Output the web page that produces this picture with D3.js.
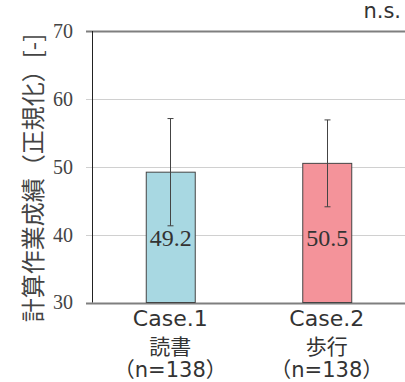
<!DOCTYPE html>
<html>
<head>
<meta charset="utf-8">
<script src="https://cdn.jsdelivr.net/npm/d3@7"></script>
<style>
  html, body { margin: 0; padding: 0; background: #fff; }
  svg { display: block; }
</style>
</head>
<body>
<svg id="chart" width="405" height="382"></svg>
<script>
// Calculation task score (normalised), reading vs walking
const caseNames = ["Case.1", "Case.2"];
const activities = ["読書", "歩行"];
const sampleSizes = ["（n=138）", "（n=138）"];
const means = [49.2, 50.5];
const errLow = [41.3, 44.1];
const errHigh = [57.1, 56.9];
const barColors = ["#a8d8e2", "#f4939a"];
const yTicks = [30, 40, 50, 60, 70];

const W = 405, H = 382;
const margin = { top: 31, right: 0, bottom: 80, left: 92 };
const SERIF = '"Liberation Serif"';

const svg = d3.select("#chart");

const x = d3.scaleBand()
  .domain(caseNames)
  .range([margin.left, W - margin.right])
  .paddingInner(0.687)
  .paddingOuter(0.3435);

const y = d3.scaleLinear()
  .domain([30, 70])
  .range([H - margin.bottom + 0.5, margin.top]);

// gridlines
svg.append("g")
  .selectAll("line")
  .data(yTicks)
  .join("line")
  .attr("x1", margin.left - 6)
  .attr("x2", W)
  .attr("y1", d => Math.round(y(d)) + 0.5)
  .attr("y2", d => Math.round(y(d)) + 0.5)
  .attr("stroke", d => (d === 30 || d === 70) ? "#7f7f7f" : "#d0d0d0")
  .attr("stroke-width", d => (d === 30 || d === 70) ? 2 : 1);

// y tick labels
const yAxis = d3.axisLeft(y).tickValues(yTicks).tickSize(0).tickPadding(19);
const gy = svg.append("g")
  .attr("transform", `translate(${margin.left},0)`)
  .call(yAxis);
gy.select(".domain").remove();
gy.selectAll("text")
  .style("font-family", SERIF)
  .style("font-size", "20px")
  .attr("fill", "#444");

// left axis line
svg.append("line")
  .attr("x1", margin.left + 0.5).attr("x2", margin.left + 0.5)
  .attr("y1", y(70)).attr("y2", y(30))
  .attr("stroke", "#222").attr("stroke-width", 1);

// bars
svg.append("g")
  .selectAll("rect")
  .data(caseNames)
  .join("rect")
  .attr("x", d => x(d) + 0.5)
  .attr("width", x.bandwidth())
  .attr("y", (d, i) => y(means[i]))
  .attr("height", (d, i) => y(30) - y(means[i]))
  .attr("fill", (d, i) => barColors[i])
  .attr("stroke", "#444")
  .attr("stroke-width", 1);

// error bars
const eg = svg.append("g").attr("stroke", "#444").attr("stroke-width", 1);
caseNames.forEach((c, i) => {
  const cx = Math.round(x(c) + x.bandwidth() / 2) + 0.5;
  eg.append("line").attr("x1", cx).attr("x2", cx)
    .attr("y1", y(errHigh[i])).attr("y2", y(errLow[i]));
  [errHigh[i], errLow[i]].forEach(v => {
    eg.append("line").attr("x1", cx - 3).attr("x2", cx + 3)
      .attr("y1", y(v)).attr("y2", y(v));
  });
});

// value labels
svg.append("g")
  .selectAll("text")
  .data(caseNames)
  .join("text")
  .attr("x", d => x(d) + x.bandwidth() / 2 + 0.5)
  .attr("y", y(38.3))
  .attr("text-anchor", "middle")
  .style("font-family", SERIF)
  .style("font-size", "24px")
  .attr("fill", "#333")
  .text((d, i) => means[i].toFixed(1));

// category labels
const lines = [caseNames, activities, sampleSizes];
const lineY = [326, 354, 377];
const lineSize = [22, 21, 21];
lines.forEach((arr, li) => {
  svg.append("g")
    .selectAll("text")
    .data(arr)
    .join("text")
    .attr("x", (d, i) => x(caseNames[i]) + x.bandwidth() / 2)
    .attr("y", lineY[li])
    .attr("text-anchor", "middle")
    .style("font-family", '"DejaVu Sans", "Noto Sans CJK JP", sans-serif')
    .style("font-size", lineSize[li] + "px")
    .attr("fill", "#333")
    .text(d => d);
});

// y axis title
svg.append("text")
  .attr("transform", `translate(42,178) rotate(-90)`)
  .attr("text-anchor", "middle")
  .style("font-family", '"Noto Sans CJK JP", sans-serif')
  .style("font-size", "24px")
  .attr("fill", "#444")
  .text("計算作業成績（正規化）[-]");

// significance note
svg.append("text")
  .attr("x", 401)
  .attr("y", 18)
  .attr("text-anchor", "end")
  .style("font-family", '"DejaVu Sans", sans-serif')
  .style("font-size", "21px")
  .attr("fill", "#333")
  .text("n.s.");
</script>
</body>
</html>
